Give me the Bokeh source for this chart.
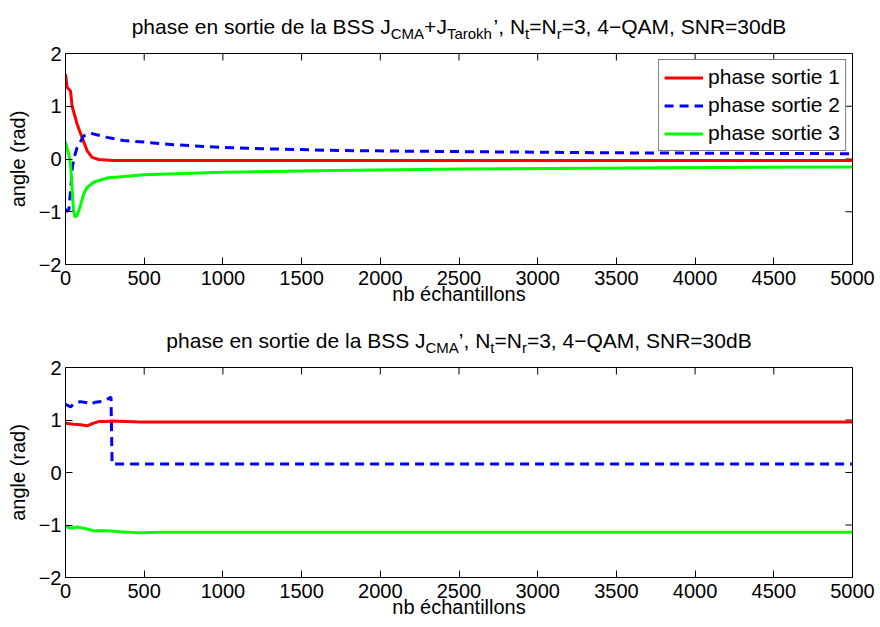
import math
from bokeh.plotting import figure
from bokeh.models import Range1d, Legend, LegendItem, FixedTicker
from bokeh.core.properties import value
from bokeh.layouts import column
from bokeh.embed import file_html
from bokeh.resources import INLINE

# ---------------- data ----------------
x_ticks = [0, 500, 1000, 1500, 2000, 2500, 3000, 3500, 4000, 4500, 5000]
y_ticks = [-2, -1, 0, 1, 2]
y_tick_text = ["\u22122", "\u22121", "0", "1", "2"]
x_min, x_max = 0, 5000
y_min, y_max = -2, 2

series_names = ["phase sortie 1", "phase sortie 2", "phase sortie 3"]

# top panel: J_CMA + J_Tarokh
top_red_x = [0, 10, 32, 42, 74, 105, 137, 169, 211, 300, 1000, 2000, 3000, 4000, 5000]
top_red_y = [1.61, 1.36, 1.29, 1.00, 0.66, 0.41, 0.16, 0.03, -0.01, -0.03, -0.03, -0.03, -0.03, -0.03, -0.03]

top_blue_x = [0, 10, 22, 35, 45, 60, 74, 116, 158, 264, 369, 500, 686, 1000, 1320, 1740, 2500, 3600, 5000]
top_blue_y = [-0.95, -1.00, -0.95, -0.50, -0.12, 0.08, 0.22, 0.44, 0.49, 0.41, 0.35, 0.32, 0.27, 0.22, 0.19, 0.16, 0.14, 0.115, 0.10]

top_green_x = [0, 10, 22, 32, 42, 50, 60, 74, 95, 116, 137, 179, 264, 500, 1000, 1700, 2500, 3600, 5000]
top_green_y = [0.32, 0.20, 0.08, -0.10, -0.55, -0.95, -1.10, -1.07, -0.88, -0.66, -0.54, -0.44, -0.36, -0.30, -0.25, -0.22, -0.19, -0.17, -0.15]

# bottom panel: J_CMA
bot_red_x = [0, 53, 95, 137, 179, 211, 264, 295, 475, 5000]
bot_red_y = [0.94, 0.92, 0.91, 0.89, 0.94, 0.97, 0.97, 0.98, 0.96, 0.96]

bot_blue_x = [0, 32, 53, 95, 137, 158, 190, 243, 274, 289, 296, 5000]
bot_blue_y = [1.30, 1.25, 1.31, 1.35, 1.33, 1.30, 1.34, 1.36, 1.41, 1.44, 0.16, 0.16]

bot_green_x = [0, 32, 74, 116, 179, 264, 348, 475, 600, 5000]
bot_green_y = [-1.03, -1.06, -1.04, -1.06, -1.11, -1.11, -1.13, -1.15, -1.14, -1.14]

# title pieces: (text, is_subscript)
top_title = [("phase en sortie de la BSS J", False), ("CMA", True), ("+J", False), ("Tarokh", True),
             ("\u2019, N", False), ("t", True), ("=N", False), ("r", True), ("=3, 4\u2212QAM, SNR=30dB", False)]
bot_title = [("phase en sortie de la BSS J", False), ("CMA", True),
             ("\u2019, N", False), ("t", True), ("=N", False), ("r", True), ("=3, 4\u2212QAM, SNR=30dB", False)]

# ---------------- style / layout ----------------
FONT = "Liberation Sans"
RED, BLUE, GREEN = "#ff0000", "#0000ff", "#00ff00"
PAGE_W = 880
FRAME_L, FRAME_W, FRAME_R = 65, 787, 28

# Arial/Liberation Sans advance widths (em)
CW = {" ": .278, "a": .556, "b": .556, "c": .5, "d": .556, "e": .556, "h": .556, "i": .222, "k": .5,
      "l": .222, "n": .556, "o": .556, "p": .556, "r": .333, "s": .5, "t": .278, "A": .667, "B": .667,
      "C": .722, "J": .5, "M": .833, "N": .722, "Q": .778, "R": .722, "S": .667, "T": .611, "=": .584,
      "+": .584, ",": .278, "\u2019": .222, "\u2212": .584}


def tw(s, size):
    return sum(CW.get(c, .556) for c in s) * size


def title_fig(pieces, height, base_from_bottom, main_size=21, sub_size=15, sub_drop=7):
    # frame of this figure is aligned with the plot frame below (x in px from the frame's left edge)
    t = figure(width=PAGE_W, height=height, x_range=Range1d(0, FRAME_W), y_range=Range1d(0, height),
               x_axis_type=None, y_axis_type=None, output_backend="svg", toolbar_location=None,
               min_border_left=FRAME_L, min_border_right=FRAME_R, min_border_top=0, min_border_bottom=0,
               outline_line_color=None)
    t.xgrid.visible = False
    t.ygrid.visible = False
    total = sum(tw(s, sub_size if sub else main_size) for s, sub in pieces)
    x = FRAME_W / 2 - total / 2
    mx, my, mt, sx, sy, st = [], [], [], [], [], []
    for s, sub in pieces:
        if sub:
            sx.append(x); sy.append(base_from_bottom - sub_drop); st.append(s)
            x += tw(s, sub_size)
        else:
            mx.append(x); my.append(base_from_bottom); mt.append(s)
            x += tw(s, main_size)
    t.text(mx, my, text=mt, text_font=value(FONT), text_font_size=value(f"{main_size}px"),
           text_color="black", text_align="left", text_baseline="alphabetic")
    t.text(sx, sy, text=st, text_font=value(FONT), text_font_size=value(f"{sub_size}px"),
           text_color="black", text_align="left", text_baseline="alphabetic")
    return t


def style_axis(ax):
    ax.axis_line_color = "black"
    ax.axis_line_width = 1
    ax.major_tick_in = 7
    ax.major_tick_out = 0
    ax.major_tick_line_color = "black"
    ax.minor_tick_line_color = None
    ax.major_label_text_font = FONT
    ax.major_label_text_color = "black"
    ax.major_label_text_font_size = "20px"
    ax.axis_label_text_font = FONT
    ax.axis_label_text_font_size = "20px"
    ax.axis_label_text_font_style = "normal"
    ax.axis_label_text_color = "black"


def make_fig(frame_h, top_border, bottom_border):
    p = figure(width=PAGE_W, height=top_border + frame_h + bottom_border,
               x_range=Range1d(x_min, x_max), y_range=Range1d(y_min, y_max),
               output_backend="svg", toolbar_location=None, min_border_left=FRAME_L,
               min_border_right=FRAME_R, min_border_top=top_border, min_border_bottom=bottom_border,
               background_fill_color="white", border_fill_color="white")
    p.xgrid.visible = False
    p.ygrid.visible = False
    p.outline_line_color = "black"
    p.xaxis.ticker = FixedTicker(ticks=x_ticks)
    p.yaxis.ticker = FixedTicker(ticks=y_ticks)
    p.yaxis.major_label_overrides = dict(zip(y_ticks, y_tick_text))
    p.xaxis.axis_label = "nb \u00e9chantillons"
    p.yaxis.axis_label = "angle (rad)"
    style_axis(p.xaxis[0])
    style_axis(p.yaxis[0])
    p.xaxis.major_label_standoff = 6
    p.xaxis.axis_label_standoff = -5
    p.yaxis.major_label_standoff = 4
    p.yaxis.axis_label_standoff = 7
    # inward ticks on the top and right edges (outer half of each dash is clipped by the frame)
    p.scatter(x_ticks, [y_max] * len(x_ticks), marker="dash", angle=math.pi / 2, size=14,
              line_color="black", line_width=1)
    p.scatter([x_max] * len(y_ticks), y_ticks, marker="dash", size=14, line_color="black", line_width=1)
    return p


def add_lines(p, rx, ry, bx, by, gx, gy, legend):
    r1 = p.line(rx, ry, line_color=RED, line_width=3)
    r2 = p.line(bx, by, line_color=BLUE, line_width=3, line_dash="9 6")
    r3 = p.line(gx, gy, line_color=GREEN, line_width=3)
    if legend:
        lg = Legend(items=[LegendItem(label=n, renderers=[r]) for n, r in zip(series_names, [r1, r2, r3])],
                    location="top_right", label_text_font=FONT, label_text_font_size="21px",
                    label_text_color="black", glyph_width=39, glyph_height=21, label_height=21,
                    spacing=4, padding=5, margin=6, label_standoff=5, border_line_color="black",
                    border_line_width=1, background_fill_color="white", background_fill_alpha=1)
        p.add_layout(lg, "center")


t1 = title_fig(top_title, 41, 15)
p1 = make_fig(211, 12, 54)
add_lines(p1, top_red_x, top_red_y, top_blue_x, top_blue_y, top_green_x, top_green_y, True)

t2 = title_fig(bot_title, 37, 15)
p2 = make_fig(210, 12, 48)
add_lines(p2, bot_red_x, bot_red_y, bot_blue_x, bot_blue_y, bot_green_x, bot_green_y, False)

layout = column(t1, p1, t2, p2, spacing=0)
open("out.html", "w").write(file_html(layout, INLINE))
